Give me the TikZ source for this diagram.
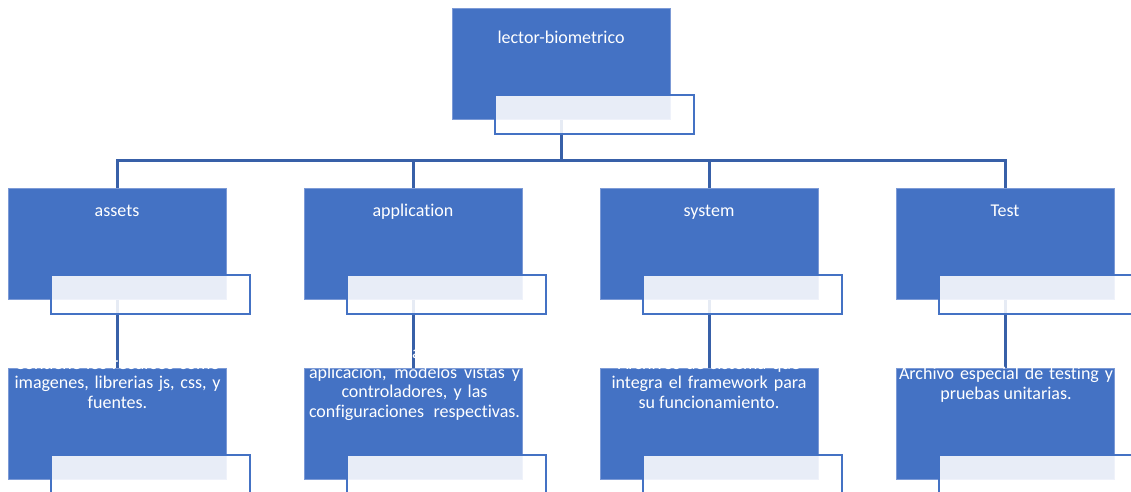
\documentclass[tikz,border=0pt]{standalone}
\usepackage{fontspec}
\setmainfont[Ligatures=NoCommon]{Carlito}
\definecolor{nodeblue}{HTML}{4472C4}
\definecolor{nodeedge}{HTML}{7C9AD6}
\definecolor{linkblue}{HTML}{3860A8}
\pgfdeclarelayer{bg}
\pgfsetlayers{bg,main}
% stretch the spaces of one line to a given width
\newcommand\spreadline[2]{\makebox[#1pt][s]{#2}}
\newcommand\textblock[1]{\begin{tabular}[t]{@{}c@{}}#1\end{tabular}}
\begin{document}
\begin{tikzpicture}[x=1pt,y=-1pt,
  folder/.style={fill=nodeblue, draw=nodeedge, line width=0.8pt,
    minimum width=218pt, minimum height=111pt, inner sep=0pt},
  tagbox/.style={fill=white, fill opacity=0.88, draw=nodeblue, draw opacity=1,
    line width=2pt, minimum width=199pt, minimum height=39pt, inner sep=0pt},
  link/.style={draw=linkblue, line width=3pt},
  caption/.style={text=white, font=\fontsize{18}{19.6}\selectfont,
    anchor=base, inner sep=0pt}]
\useasboundingbox (0,0) rectangle (1131,491);

% root folder
\node[folder] (root) at (561,63.5) {};
\node[tagbox] (rootT) at (594.5,114.5) {};
\node[caption] (rootL) at (561,43.5) {lector-biometrico};

% first level folders
\node[folder] (assets) at (117,243.5) {};
\node[folder] (app)    at (413,243.5) {};
\node[folder] (sys)    at (709,243.5) {};
\node[folder] (test)   at (1005,243.5) {};
\node[tagbox] (assetsT) at (150.5,294.5) {};
\node[tagbox] (appT)    at (446.5,294.5) {};
\node[tagbox] (sysT)    at (742.5,294.5) {};
\node[tagbox] (testT)   at (1038.5,294.5) {};
\node[caption] (assetsL) at (117,216.5) {assets};
\node[caption] (appL)    at (413,216.5) {application};
\node[caption] (sysL)    at (709,216.5) {system};
\node[caption] (testL)   at (1005,216.5) {Test};

% description boxes
\node[folder] (assetsD) at (117,423.5) {};
\node[folder] (appD)    at (413,423.5) {};
\node[folder] (sysD)    at (709,423.5) {};
\node[folder] (testD)   at (1005,423.5) {};
\node[tagbox] (assetsDT) at (150.5,474.5) {};
\node[tagbox] (appDT)    at (446.5,474.5) {};
\node[tagbox] (sysDT)    at (742.5,474.5) {};
\node[tagbox] (testDT)   at (1038.5,474.5) {};

\node[caption] (assetsX) at (117.5,369) {\textblock{%
  \spreadline{205}{Contiene los recursos como}\\
  \spreadline{206}{imagenes, librerias js, css, y}\\
  fuentes.}};
\node[caption] (appX) at (414.5,358.5) {\textblock{%
  \spreadline{200}{Contiene los archivos de la}\\
  \spreadline{211}{aplicación, modelos vistas y}\\
  \spreadline{146}{controladores, y las}\\
  \spreadline{211}{configuraciones respectivas.}}};
\node[caption] (sysX) at (709,369) {\textblock{%
  \spreadline{182}{Archivos de sistema que}\\
  \spreadline{195}{integra el framework para}\\
  su funcionamiento.}};
\node[caption] (testX) at (1006,379.5) {\textblock{%
  \spreadline{214}{Archivo especial de testing y}\\
  pruebas unitarias.}};

% connectors
\begin{pgfonlayer}{bg}
  \coordinate (bus) at (561,160);
  \draw[link] (root.south) -- (bus);
  \draw[link] (bus) -| (assets.north);
  \draw[link] (bus) -| (app.north);
  \draw[link] (bus) -| (sys.north);
  \draw[link] (bus) -| (test.north);
  \draw[link] (assets.south) -- (assetsD.north);
  \draw[link] (app.south) -- (appD.north);
  \draw[link] (sys.south) -- (sysD.north);
  \draw[link] (test.south) -- (testD.north);
\end{pgfonlayer}
\end{tikzpicture}
\end{document}
